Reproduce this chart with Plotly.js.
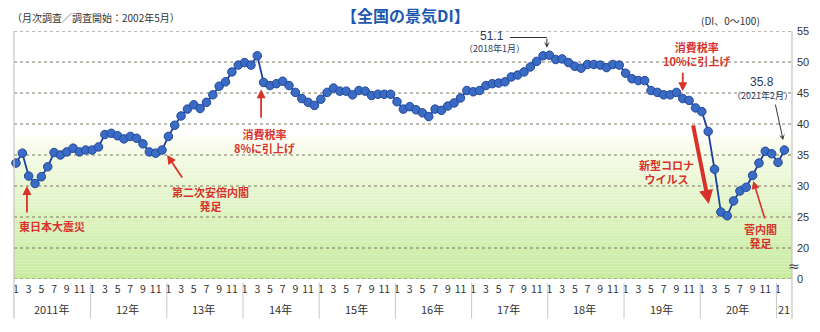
<!DOCTYPE html>
<html><head><meta charset="utf-8">
<script src="https://cdn.plot.ly/plotly-3.0.1.min.js"></script>
<style>html,body{margin:0;padding:0;background:#fff;}#chart{width:820px;height:332px;}</style>
</head><body><div id="chart"></div>
<script>
// Monthly 景気DI, Jan 2011 – Feb 2021
const years = ["2011年","12年","13年","14年","15年","16年","17年","18年","19年","20年","21"];
const monthTickLabels = ["1","3","5","7","9","11"];
const di2011 = [33.7,35.3,31.6,30.4,31.5,33.1,35.4,35.0,35.5,36.1,35.5,35.8];
const di2012 = [35.8,36.3,38.3,38.5,38.1,37.6,38.0,37.7,36.8,35.5,35.3,35.8];
const di2013 = [38.0,39.8,41.3,42.4,43.1,42.5,43.5,44.7,46.1,46.8,48.4,49.5];
const di2014 = [49.9,49.5,51.0,46.7,46.2,46.5,46.9,46.2,45.1,44.1,43.5,43.0];
const di2015 = [44.0,45.1,45.8,45.3,45.3,44.7,45.4,45.3,44.6,44.8,44.8,44.8];
const di2016 = [43.6,42.4,42.8,42.3,41.8,41.2,42.4,42.2,42.9,43.4,44.2,45.4];
const di2017 = [45.2,45.4,46.2,46.5,46.6,46.8,47.6,47.9,48.4,49.2,50.1,51.0];
const di2018 = [51.1,50.4,50.5,49.9,49.3,49.0,49.6,49.6,49.5,49.1,49.6,49.5];
const di2019 = [48.2,47.3,47.0,47.0,45.4,45.1,44.7,44.7,45.1,44.1,43.8,42.6];
const di2020 = [42.0,38.8,32.7,25.8,25.2,27.6,29.2,29.8,31.7,33.7,35.6,35.2];
const di2021 = [33.8,35.8];
const yTickVals = [15,20,25,30,35,40,45,50,55];
const yTickText = ["0","20","25","30","35","40","45","50","55"];

(function(){
const values = [].concat(di2011,di2012,di2013,di2014,di2015,di2016,di2017,di2018,di2019,di2020,di2021);
const idx = values.map((v,i)=>i);

const tickvals=[], ticktext=[];
for(let y=0;y<years.length;y++){
  for(let m=0;m<6;m++){
    const i=y*12+m*2;
    if(i<values.length){tickvals.push(i);ticktext.push(monthTickLabels[m]);}
  }
}

const shapes=[];
const gTop=38, gBot=15, n=46;
function lerp(a,b,t){return Math.round(a+(b-a)*t);}
for(let k=0;k<n;k++){
  const y0=gTop-(gTop-gBot)*k/n, y1=gTop-(gTop-gBot)*(k+1)/n;
  const t=Math.pow((k+0.5)/n,0.8);
  const c=`rgb(${lerp(255,200,t)},${lerp(255,235,t)},${lerp(246,160,t)})`;
  shapes.push({type:'rect',xref:'paper',yref:'y',x0:0,x1:1,y0:y1,y1:y0,fillcolor:c,line:{width:0},layer:'below'});
}
yTickVals.forEach(v=>{
  shapes.push({type:'line',xref:'paper',yref:'y',x0:0,x1:1,y0:v,y1:v,line:{color:'#7d7666',width:1,dash:'dot'},layer:'below'});
});
shapes.push({type:'line',xref:'paper',yref:'paper',x0:0,x1:0,y0:1,y1:-0.16,line:{color:'#c4c4c4',width:1.2}});
shapes.push({type:'line',xref:'paper',yref:'paper',x0:1,x1:1,y0:1,y1:-0.16,line:{color:'#c4c4c4',width:1.2}});
for(let y=1;y<years.length;y++){
  shapes.push({type:'line',xref:'x',yref:'paper',x0:y*12-0.25,x1:y*12-0.25,y0:-0.015,y1:-0.16,line:{color:'#c8c8c8',width:1}});
}
shapes.push({type:'line',xref:'x',yref:'y',x0:77.8,x1:83.6,y0:53.95,y1:53.95,line:{color:'#333',width:1}});

const red='#d8322a', navy='#2f3a5c';
const jp='"Noto Sans CJK JP", "Noto Sans", sans-serif';
const ann=[];
years.forEach((t,y)=>{
  const cx = (y===years.length-1)? 121 : y*12+5.6;
  ann.push({x:cx,y:-0.121,xref:'x',yref:'paper',yanchor:'middle',text:t,showarrow:false,font:{size:11,color:'#333',family:jp}});
});
ann.push({x:0.503,y:1.066,xref:'paper',yref:'paper',yanchor:'middle',text:'<b>【全国の景気DI】</b>',showarrow:false,font:{size:16,color:'#2058b0',family:jp}});
ann.push({x:-0.005,y:1.056,xref:'paper',yref:'paper',xanchor:'left',yanchor:'middle',text:'（月次調査／調査開始：2002年5月）',showarrow:false,font:{size:10,color:'#333',family:jp}});
ann.push({x:0.962,y:1.044,xref:'paper',yref:'paper',yanchor:'middle',text:'(DI、0～100)',showarrow:false,font:{size:10,color:'#333',family:jp}});
ann.push({x:1,xref:'paper',xshift:2,y:17.1,yref:'y',xanchor:'center',text:'≈',showarrow:false,font:{size:14,color:'#444',family:'DejaVu Sans'}});
const redFont={size:11,color:red,family:jp};
ann.push({x:5.7,y:23.5,xref:'x',yref:'y',text:'<b>東日本大震災</b>',showarrow:false,font:redFont});
ann.push({x:1.73,y:30.0,xref:'x',yref:'y',ax:0,ay:28,text:'',showarrow:true,arrowhead:2,arrowsize:1,arrowwidth:1.8,arrowcolor:red});
ann.push({x:30.6,y:27.9,xref:'x',yref:'y',text:'<b>第二次安倍内閣<br>発足</b>',showarrow:false,font:redFont});
ann.push({x:23.8,y:35.0,xref:'x',yref:'y',ax:16,ay:24,text:'',showarrow:true,arrowhead:2,arrowsize:1,arrowwidth:1.8,arrowcolor:red});
ann.push({x:39.2,y:37.3,xref:'x',yref:'y',text:'<b>消費税率<br>8%に引上げ</b>',showarrow:false,font:redFont});
ann.push({x:38.6,y:45.6,xref:'x',yref:'y',ax:0,ay:30,text:'',showarrow:true,arrowhead:2,arrowsize:1,arrowwidth:1.8,arrowcolor:red});
ann.push({x:107.2,y:51.3,xref:'x',yref:'y',text:'<b>消費税率<br>10%に引上げ</b>',showarrow:false,font:redFont});
ann.push({x:105.0,y:45.3,xref:'x',yref:'y',ax:0,ay:-20,text:'',showarrow:true,arrowhead:2,arrowsize:1,arrowwidth:1.8,arrowcolor:red});
ann.push({x:102.5,y:32.3,xref:'x',yref:'y',text:'<b>新型コロナ<br>ウイルス</b>',showarrow:false,font:redFont});
ann.push({x:109.1,y:27.1,xref:'x',yref:'y',ax:-16,ay:-80,text:'',showarrow:true,arrowhead:2,arrowsize:0.7,arrowwidth:4,arrowcolor:red});
ann.push({x:117.3,y:21.9,xref:'x',yref:'y',text:'<b>菅内閣<br>発足</b>',showarrow:false,font:redFont});
ann.push({x:116.1,y:30.8,xref:'x',yref:'y',ax:12,ay:39,text:'',showarrow:true,arrowhead:2,arrowsize:1,arrowwidth:1.6,arrowcolor:red});
ann.push({x:75.0,y:54.25,xref:'x',yref:'y',text:'51.1',showarrow:false,font:{size:12,color:navy,family:'Liberation Sans'}});
ann.push({x:75.4,y:52.15,xref:'x',yref:'y',text:'（2018年1月）',showarrow:false,font:{size:9,color:navy,family:jp}});
ann.push({x:83.6,y:52.3,xref:'x',yref:'y',ax:0,ay:-10.5,text:'',showarrow:true,arrowhead:3,arrowsize:1,arrowwidth:1,arrowcolor:'#333'});
ann.push({x:117.5,y:46.85,xref:'x',yref:'y',text:'35.8',showarrow:false,font:{size:12,color:navy,family:'Liberation Sans'}});
ann.push({x:117.6,y:44.65,xref:'x',yref:'y',text:'（2021年2月）',showarrow:false,font:{size:9,color:navy,family:jp}});
ann.push({x:120.8,y:37.4,xref:'x',yref:'y',ax:-8,ay:-37,text:'',showarrow:true,arrowhead:3,arrowsize:1,arrowwidth:1,arrowcolor:'#333'});

const trace={x:idx,y:values,type:'scatter',mode:'lines+markers',
  line:{color:'#1f3f9c',width:1.8},
  marker:{size:8.5,color:'#3a6cc6',line:{color:'#23479a',width:1}},
  hoverinfo:'skip',cliponaxis:false};

const layout={width:820,height:332,margin:{l:14,r:28,t:31,b:53},
  paper_bgcolor:'#fff',plot_bgcolor:'rgba(0,0,0,0)',showlegend:false,
  font:{family:jp,color:'#333'},
  xaxis:{range:[-0.31,122.2],tickvals:tickvals,ticktext:ticktext,tickangle:0,showgrid:false,zeroline:false,showline:false,ticks:'',ticklabelstandoff:2,tickfont:{size:10.5,color:'#333',family:jp},fixedrange:true},
  yaxis:{range:[15,55],side:'right',tickvals:yTickVals,ticktext:yTickText,showgrid:false,zeroline:false,showline:false,ticks:'',ticklabelstandoff:4,tickfont:{size:11,color:'#333',family:'Liberation Sans'},fixedrange:true},
  shapes:shapes,annotations:ann};
Plotly.newPlot('chart',[trace],layout,{staticPlot:true,displayModeBar:false});
})();
</script></body></html>
